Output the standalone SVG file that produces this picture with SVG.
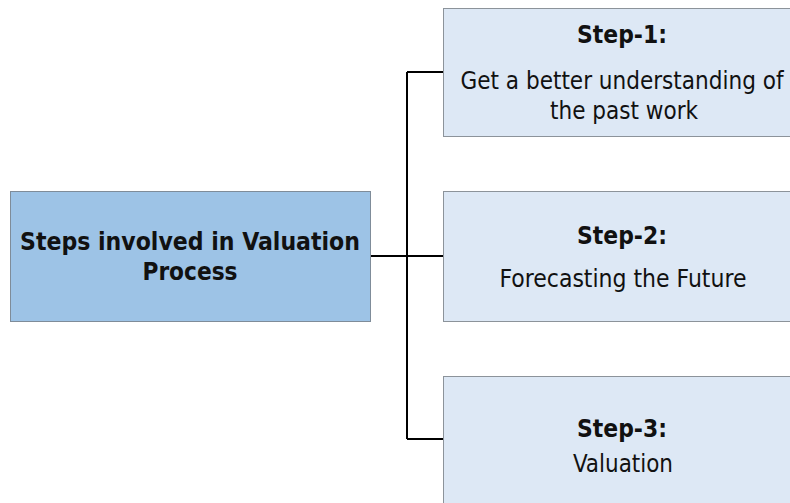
<svg xmlns="http://www.w3.org/2000/svg" width="790" height="503" viewBox="0 0 790 503">
  <style>
    .main { fill: #9dc3e6; stroke: #7f8c99; stroke-width: 1; }
    .step { fill: #dde8f5; stroke: #8c939a; stroke-width: 1; }
    .wire { fill: none; stroke: #000; stroke-width: 2; }
    text { font-family: "DejaVu Sans Condensed", "DejaVu Sans", sans-serif; font-stretch: condensed; fill: #111; text-anchor: middle; }
    .b { font-weight: bold; font-size: 25px; }
    .r { font-size: 25px; }
  </style>
  <rect width="790" height="503" fill="#fff"/>
  <g id="connectors">
    <path class="wire" d="M371 256 H407 M407 72 V439 M407 72 H443 M407 256 H443 M407 439 H443"/>
  </g>
  <g id="main-node">
    <rect class="main" x="10.5" y="191.5" width="360" height="130"/>
    <text class="b" x="190" y="250" textLength="340" lengthAdjust="spacingAndGlyphs">Steps involved in Valuation</text>
    <text class="b" x="190" y="280" textLength="95" lengthAdjust="spacingAndGlyphs">Process</text>
  </g>
  <g id="step-1">
    <rect class="step" x="443.5" y="8.5" width="350" height="128"/>
    <text class="b" x="622" y="43" textLength="90" lengthAdjust="spacingAndGlyphs">Step-1:</text>
    <text class="r" x="622" y="89" textLength="323" lengthAdjust="spacingAndGlyphs">Get a better understanding of</text>
    <text class="r" x="624" y="119" textLength="148" lengthAdjust="spacingAndGlyphs">the past work</text>
  </g>
  <g id="step-2">
    <rect class="step" x="443.5" y="191.5" width="350" height="130"/>
    <text class="b" x="622" y="244" textLength="90" lengthAdjust="spacingAndGlyphs">Step-2:</text>
    <text class="r" x="623" y="287" textLength="247" lengthAdjust="spacingAndGlyphs">Forecasting the Future</text>
  </g>
  <g id="step-3">
    <rect class="step" x="443.5" y="376.5" width="350" height="130"/>
    <text class="b" x="622" y="437" textLength="90" lengthAdjust="spacingAndGlyphs">Step-3:</text>
    <text class="r" x="623" y="472" textLength="100" lengthAdjust="spacingAndGlyphs">Valuation</text>
  </g>
</svg>
